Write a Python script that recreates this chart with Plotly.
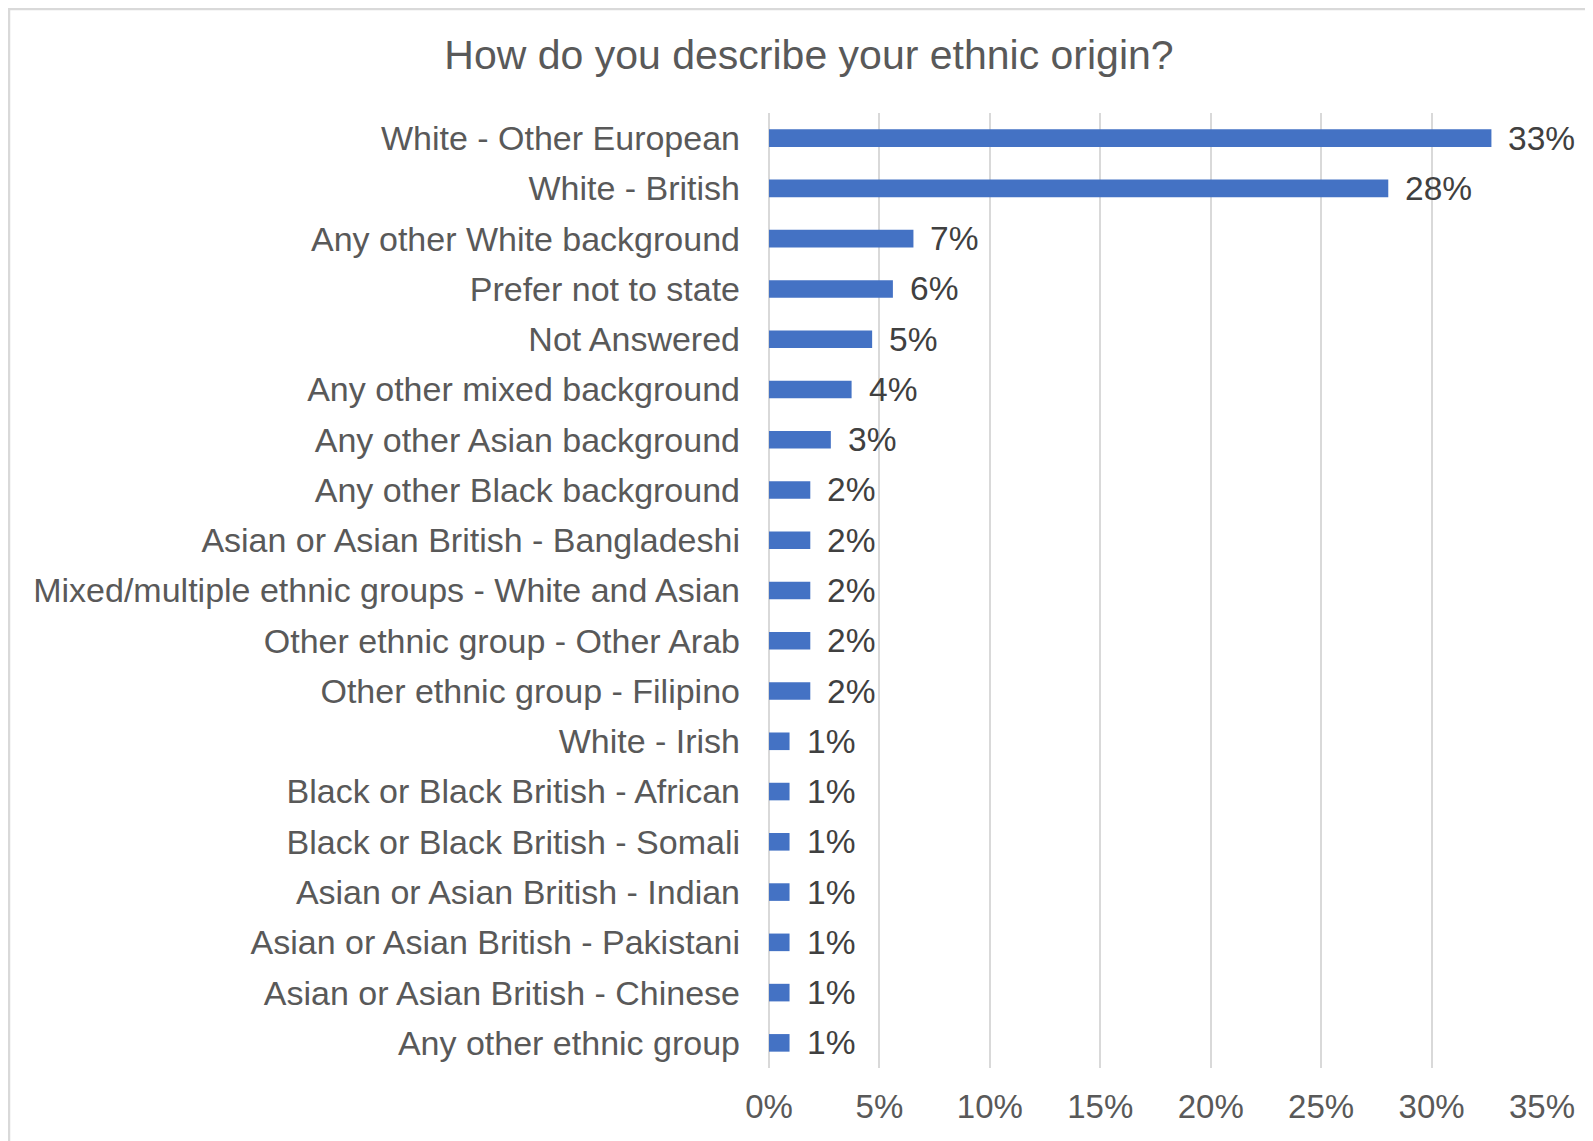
import plotly.graph_objects as go

categories = [
    "White - Other European",
    "White - British",
    "Any other White background",
    "Prefer not to state",
    "Not Answered",
    "Any other mixed background",
    "Any other Asian background",
    "Any other Black background",
    "Asian or Asian British - Bangladeshi",
    "Mixed/multiple ethnic groups - White and Asian",
    "Other ethnic group - Other Arab",
    "Other ethnic group - Filipino",
    "White - Irish",
    "Black or Black British - African",
    "Black or Black British - Somali",
    "Asian or Asian British - Indian",
    "Asian or Asian British - Pakistani",
    "Asian or Asian British - Chinese",
    "Any other ethnic group",
]
values = [32.71, 28.04, 6.54, 5.61, 4.67, 3.74, 2.80, 1.87, 1.87, 1.87, 1.87, 1.87,
          0.93, 0.93, 0.93, 0.93, 0.93, 0.93, 0.93]
tick_vals = [0, 5, 10, 15, 20, 25, 30, 35]
tick_text = ["0%", "5%", "10%", "15%", "20%", "25%", "30%", "35%"]
title_text = "How do you describe your ethnic origin?"

W, H = 1593, 1141
L, R, T, B = 760.5, 59, 105, 81
FONT = "Arial, 'Liberation Sans', sans-serif"

fig = go.Figure()
fig.add_trace(go.Bar(
    x=values, y=categories, orientation="h",
    marker=dict(color="#4472C4", line=dict(width=0)),
    width=0.35, hoverinfo="x+y",
))

annotations = []
for c, v in zip(categories, values):
    annotations.append(dict(
        x=v, y=c, xref="x", yref="y", text=f"{v:.0f}%", showarrow=False,
        xanchor="left", yanchor="middle", xshift=15,
        font=dict(family=FONT, size=33.5, color="#404040"),
    ))

pw = W - L - R
ph = H - T - B
fig.update_layout(
    width=W, height=H,
    margin=dict(l=L, r=R, t=T, b=B, pad=0),
    paper_bgcolor="white", plot_bgcolor="white",
    showlegend=False,
    title=dict(text=title_text, x=801 / W, xref="container", xanchor="center",
               y=1 - 47 / H, yref="container", yanchor="middle",
               font=dict(family=FONT, size=41, color="#595959")),
    xaxis=dict(range=[0, 35], tickvals=tick_vals, ticktext=tick_text,
               showgrid=True, gridcolor="#D9D9D9", gridwidth=2,
               zeroline=True, zerolinecolor="#D9D9D9", zerolinewidth=2,
               showline=False, ticks="", ticklabelstandoff=16,
               tickfont=dict(family=FONT, size=33, color="#595959"),
               fixedrange=True),
    yaxis=dict(autorange="reversed", showgrid=False, showline=False, ticks="",
               ticklabelstandoff=28,
               tickfont=dict(family=FONT, size=34, color="#595959"),
               fixedrange=True),
    annotations=annotations,
    shapes=[dict(type="rect", xref="paper", yref="paper",
                 x0=(0 - L) / pw, x1=(W + 30 - L) / pw,
                 y0=(H - B - 1) / ph, y1=(H - B - (H + 30)) / ph,
                 line=dict(color="#D9D9D9", width=2.5), fillcolor="rgba(0,0,0,0)",
                 layer="below")],
    bargap=0.65,
)
fig.write_html("out.html")
